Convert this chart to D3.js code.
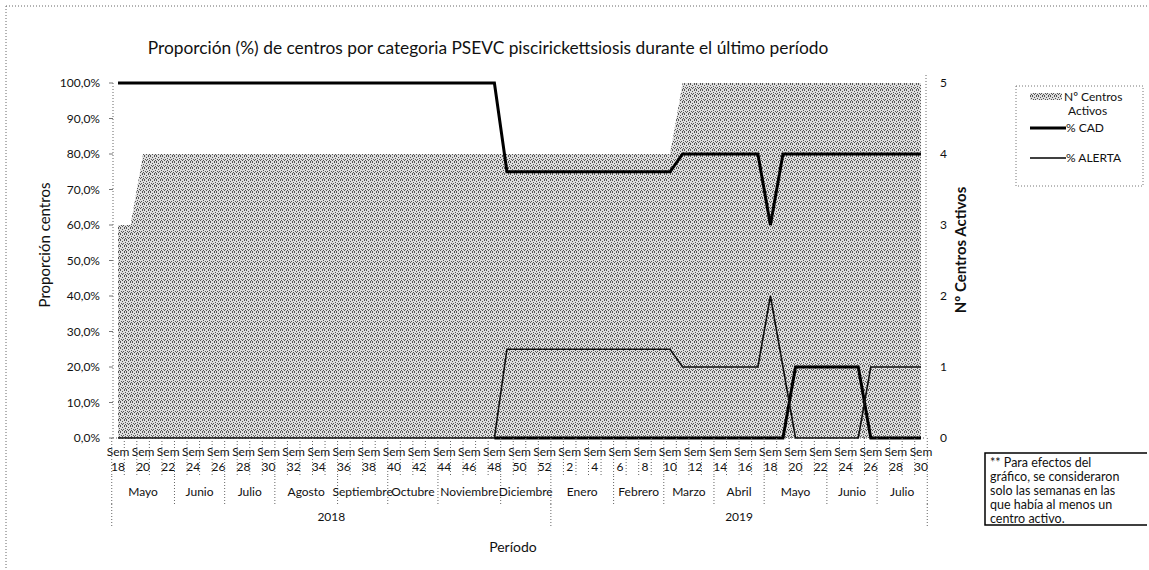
<!DOCTYPE html>
<html>
<head>
<meta charset="utf-8">
<script src="https://cdn.jsdelivr.net/npm/d3@7"></script>
<style>
  body { margin: 0; background: #fff; }
  text { font-family: Lato, "Open Sans", sans-serif; fill: #111; }
  .tick { font-size: 12px; }
  .axisLb { font-size: 14px; text-anchor: middle; }
  .sep { stroke: #666; stroke-width: 1; stroke-dasharray: 1,2; }
</style>
</head>
<body>
<div id="main"></div>
<script>
// semanas (eje x), 2018 sem 18..52 y 2019 sem 1..30
var semanas = [18,19,20,21,22,23,24,25,26,27,28,29,30,31,32,33,34,35,36,37,38,39,40,41,42,43,44,45,46,47,48,49,50,51,52,
               1,2,3,4,5,6,7,8,9,10,11,12,13,14,15,16,17,18,19,20,21,22,23,24,25,26,27,28,29,30];
var meses = ["Mayo","Junio","Julio","Agosto","Septiembre","Octubre","Noviembre","Diciembre",
             "Enero","Febrero","Marzo","Abril","Mayo","Junio","Julio"];
var semanasPorMes = [5,4,4,5,4,4,5,4, 5,4,4,4,5,4,4];
var anios = ["2018","2019"];
var semanasPorAnio = [35,30];

// Nº centros activos (eje derecho)
var centrosActivos = [3,3,4,4,4,4,4,4,4,4,4,4,4,4,4,4,4,4,4,4,4,4,4,4,4,4,4,4,4,4,4,4,4,4,4,
                      4,4,4,4,4,4,4,4,4,4,5,5,5,5,5,5,5,5,5,5,5,5,5,5,5,5,5,5,5,5];
// % CAD
var pctCAD = [1,1,1,1,1,1,1,1,1,1,1,1,1,1,1,1,1,1,1,1,1,1,1,1,1,1,1,1,1,1,1,
              0.75,0.75,0.75,0.75,0.75,0.75,0.75,0.75,0.75,0.75,0.75,0.75,0.75,0.75,
              0.8,0.8,0.8,0.8,0.8,0.8,0.8,0.6,0.8,0.8,0.8,0.8,0.8,0.8,0.8,0.8,0.8,0.8,0.8,0.8];
// % ALERTA
var pctAlerta = [0,0,0,0,0,0,0,0,0,0,0,0,0,0,0,0,0,0,0,0,0,0,0,0,0,0,0,0,0,0,0,
                 0.25,0.25,0.25,0.25,0.25,0.25,0.25,0.25,0.25,0.25,0.25,0.25,0.25,0.25,
                 0.2,0.2,0.2,0.2,0.2,0.2,0.2,0.4,0.2,0,0,0,0,0,0,0.2,0.2,0.2,0.2,0.2];
// tercera serie (sin leyenda)
var pctOtra = [null,null,null,null,null,null,null,null,null,null,null,null,null,null,null,
               null,null,null,null,null,null,null,null,null,null,null,null,null,null,null,
               0,0,0,0,0,0,0,0,0,0,0,0,0,0,0,0,0,0,0,0,0,0,0,0,
               0.2,0.2,0.2,0.2,0.2,0.2,0,0,0,0,0];
var ticksIzq = [0,0.1,0.2,0.3,0.4,0.5,0.6,0.7,0.8,0.9,1];
var ticksDer = [0,1,2,3,4,5];
var nota = ["** Para efectos del", "gráfico, se consideraron", "solo las semanas en las",
            "que había al menos  un", "centro activo."];

var ctx = {w: 1149, h: 570, top: 83, bottom: 438, left: 113, right: 926};

var locale = d3.formatLocale({decimal: ",", thousands: ".", grouping: [3], currency: ["$", ""]});
var fmtPct = locale.format(".1%");

// puntos de la trama (tile 6x6), solo estilo
var trama = [[0,0],[4,0],[2,1],[5,2],[1,3],[3,3],[0,5],[4,5],[2,4],[5,4]];

var createViz = function(){
    var svg = d3.select("#main").append("svg")
        .attr("width", ctx.w).attr("height", ctx.h);

    // trama punteada del área
    var pat = svg.append("defs").append("pattern")
        .attr("id", "stip").attr("width", 6).attr("height", 6)
        .attr("patternUnits", "userSpaceOnUse");
    pat.append("rect").attr("width", 6).attr("height", 6).attr("fill", "#dedede");
    pat.selectAll(".p").data(trama).enter().append("rect")
        .attr("x", function(d){ return d[0]; }).attr("y", function(d){ return d[1]; })
        .attr("width", 1).attr("height", 1).attr("fill", "#555");

    // borde del gráfico
    svg.append("line").attr("class", "sep").attr("x1", 6).attr("x2", ctx.w).attr("y1", 6).attr("y2", 6);
    svg.append("line").attr("class", "sep").attr("x1", 6).attr("x2", 6).attr("y1", 6).attr("y2", ctx.h);

    var idx = d3.range(semanas.length);
    ctx.x = d3.scalePoint().domain(idx).range([ctx.left, ctx.right]).padding(0.4);
    ctx.yL = d3.scaleLinear().domain([0, 1]).range([ctx.bottom, ctx.top]);
    ctx.yR = d3.scaleLinear().domain([0, 5]).range([ctx.bottom, ctx.top]);
    var step = ctx.x.step();

    // área Nº centros activos
    var area = d3.area().x(function(d, i){ return ctx.x(i); })
        .y0(ctx.bottom).y1(function(d){ return ctx.yR(d); });
    svg.append("path").datum(centrosActivos)
        .attr("d", area).attr("fill", "url(#stip)");

    // ejes (líneas punteadas)
    svg.append("line").attr("class", "sep").attr("x1", ctx.left).attr("x2", ctx.left)
        .attr("y1", ctx.top).attr("y2", ctx.bottom);
    svg.append("line").attr("class", "sep").attr("x1", ctx.right).attr("x2", ctx.right)
        .attr("y1", ctx.top - 8).attr("y2", ctx.bottom);
    svg.append("line").attr("class", "sep").attr("x1", ctx.left).attr("x2", ctx.right)
        .attr("y1", ctx.bottom).attr("y2", ctx.bottom);

    // líneas
    var line = d3.line().defined(function(d){ return d !== null; })
        .x(function(d, i){ return ctx.x(i); })
        .y(function(d){ return ctx.yL(d); });
    svg.append("path").datum(pctOtra).attr("d", line)
        .attr("fill", "none").attr("stroke", "#000").attr("stroke-width", 3);
    svg.append("path").datum(pctAlerta).attr("d", line)
        .attr("fill", "none").attr("stroke", "#111").attr("stroke-width", 1.6);
    svg.append("path").datum(pctCAD).attr("d", line)
        .attr("fill", "none").attr("stroke", "#000").attr("stroke-width", 3);

    // eje izquierdo
    var gL = svg.append("g").attr("class", "tick");
    gL.selectAll("text").data(ticksIzq).enter().append("text")
        .attr("x", 100).attr("y", function(d){ return ctx.yL(d) + 4; })
        .attr("text-anchor", "end").text(function(d){ return fmtPct(d); });
    gL.selectAll("line").data(ticksIzq).enter().append("line")
        .attr("x1", 109).attr("x2", ctx.left)
        .attr("y1", function(d){ return ctx.yL(d); }).attr("y2", function(d){ return ctx.yL(d); })
        .attr("stroke", "#777");
    svg.append("text").attr("class", "axisLb")
        .attr("transform", "translate(50,245) rotate(-90)")
        .style("font-size", "15px").text("Proporción centros");

    // eje derecho
    var gR = svg.append("g").attr("class", "tick");
    gR.selectAll("text").data(ticksDer).enter().append("text")
        .attr("x", 940).attr("y", function(d){ return ctx.yR(d) + 4; })
        .text(function(d){ return d; });
    svg.append("text").attr("class", "axisLb")
        .attr("transform", "translate(966,250) rotate(-90)")
        .style("font-weight", "bold").style("font-size", "15px").text("Nº Centros Activos");

    // etiquetas de semanas
    var gX = svg.append("g").attr("class", "tick");
    var lab = idx.filter(function(i){ return i % 2 === 0; });
    gX.selectAll(".sem").data(lab).enter().append("text")
        .attr("x", function(i){ return ctx.x(i); }).attr("y", 456)
        .attr("text-anchor", "middle").text("Sem");
    gX.selectAll(".num").data(lab).enter().append("text")
        .attr("x", function(i){ return ctx.x(i); }).attr("y", 471)
        .attr("text-anchor", "middle").text(function(i){ return semanas[i]; });
    gX.selectAll("line").data(idx.concat([semanas.length])).enter().append("line")
        .attr("class", "sep")
        .attr("x1", function(i){ return ctx.x(0) + (i - 0.5) * step; })
        .attr("x2", function(i){ return ctx.x(0) + (i - 0.5) * step; })
        .attr("y1", ctx.bottom).attr("y2", 476);

    // meses
    var ini = 0, gM = svg.append("g").attr("class", "tick");
    meses.forEach(function(m, k){
        var fin = ini + semanasPorMes[k];
        var xa = ctx.x(0) + (ini - 0.5) * step, xb = ctx.x(0) + (fin - 0.5) * step;
        gM.append("text").attr("x", (xa + xb) / 2).attr("y", 496)
            .attr("text-anchor", "middle").text(m);
        gM.append("line").attr("class", "sep").attr("x1", xb).attr("x2", xb)
            .attr("y1", 476).attr("y2", 504);
        if (k === 0) gM.append("line").attr("class", "sep").attr("x1", xa).attr("x2", xa)
            .attr("y1", 476).attr("y2", 504);
        ini = fin;
    });
    // años
    ini = 0;
    anios.forEach(function(a, k){
        var fin = ini + semanasPorAnio[k];
        var xa = ctx.x(0) + (ini - 0.5) * step, xb = ctx.x(0) + (fin - 0.5) * step;
        gM.append("text").attr("x", (xa + xb) / 2).attr("y", 521)
            .attr("text-anchor", "middle").text(a);
        gM.append("line").attr("class", "sep").attr("x1", xb).attr("x2", xb)
            .attr("y1", 504).attr("y2", 528);
        if (k === 0) gM.append("line").attr("class", "sep").attr("x1", xa).attr("x2", xa)
            .attr("y1", 504).attr("y2", 528);
        ini = fin;
    });
    svg.append("text").attr("class", "axisLb").attr("x", 513).attr("y", 552).text("Período");

    // título
    var tit = svg.append("text").attr("x", 488).attr("y", 54)
        .attr("text-anchor", "middle").style("font-size", "18px")
        .text("Proporción (%) de centros por categoria PSEVC piscirickettsiosis durante el último período");
    var tw = tit.node().getComputedTextLength();
    tit.style("font-size", (18 * 681 / tw) + "px");

    // leyenda
    var lg = svg.append("g").attr("class", "tick");
    lg.append("rect").attr("x", 1016).attr("y", 86).attr("width", 127).attr("height", 100)
        .attr("fill", "none").attr("stroke", "#777").attr("stroke-dasharray", "1,2");
    lg.append("rect").attr("x", 1030).attr("y", 93).attr("width", 32).attr("height", 7)
        .attr("fill", "url(#stip)");
    lg.append("text").attr("x", 1064).attr("y", 101).text("Nº Centros");
    lg.append("text").attr("x", 1068).attr("y", 115).text("Activos");
    lg.append("line").attr("x1", 1030).attr("x2", 1066).attr("y1", 128).attr("y2", 128)
        .attr("stroke", "#000").attr("stroke-width", 3);
    lg.append("text").attr("x", 1066).attr("y", 132).text("% CAD");
    lg.append("line").attr("x1", 1030).attr("x2", 1066).attr("y1", 158).attr("y2", 158)
        .attr("stroke", "#000").attr("stroke-width", 1.6);
    lg.append("text").attr("x", 1066).attr("y", 162).text("% ALERTA");

    // nota
    var gN = svg.append("g");
    gN.append("path").attr("d", "M1147,453 H985 V525 H1147")
        .attr("fill", "none").attr("stroke", "#000").attr("stroke-width", 1.5);
    gN.selectAll("text").data(nota).enter().append("text")
        .attr("x", 990).attr("y", function(d, i){ return 467 + i * 14; })
        .style("font-size", "12.5px").text(function(d){ return d; });
};

createViz();
</script>
</body>
</html>
